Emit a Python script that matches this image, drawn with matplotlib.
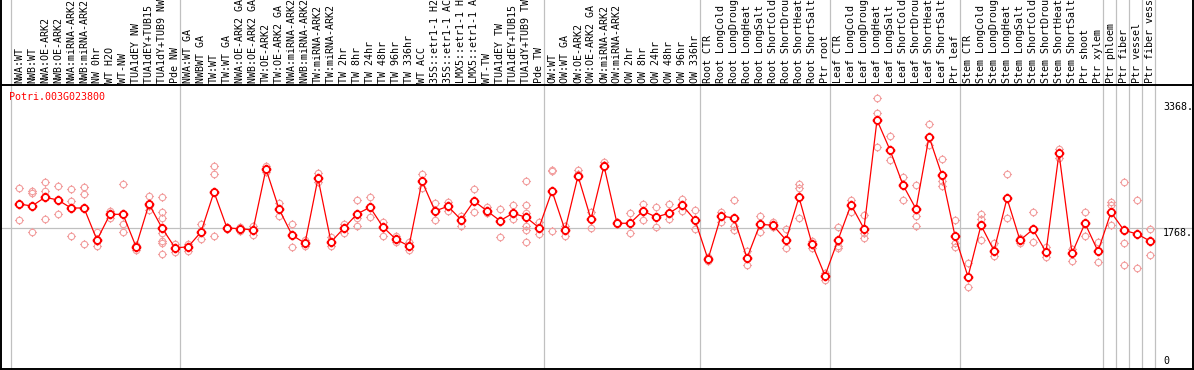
import matplotlib
matplotlib.use('Agg')
import matplotlib.pyplot as plt
from matplotlib.path import Path
import numpy as np


# sample names (top labels, one per column)
labels = [
	'NWA:WT', 'NWB:WT', 'NWA:OE-ARK2', 'NWB:OE-ARK2', 'NWA:miRNA-ARK2', 'NWB:miRNA-ARK2',
	'NW 0hr', 'WT H2O', 'WT-NW', 'TUA1dEY NW', 'TUA1dEY+TUB15 NW', 'TUA1dY+TUB9 NW', 'Pde NW',
	'NWA:WT GA', 'NWBWT GA', 'TW:WT', 'TW:WT GA', 'NWA:OE-ARK2 GA', 'NWB:OE-ARK2 GA',
	'TW:OE-ARK2', 'TW:OE-ARK2 GA', 'NWA:miRNA-ARK2 GA', 'NWB:miRNA-ARK2 GA', 'TW:miRNA-ARK2',
	'TW:miRNA-ARK2 GA', 'TW 2hr', 'TW 8hr', 'TW 24hr', 'TW 48hr', 'TW 96hr', 'TW 336hr',
	'WT ACC', '35S::etr1-1 H2O', '35S::etr1-1 ACC', 'LMX5::etr1-1 H2O', 'LMX5::etr1-1 ACC',
	'WT-TW', 'TUA1dEY TW', 'TUA1dEY+TUB15 TW', 'TUA1dY+TUB9 TW', 'Pde TW',
	'OW:WT', 'OW:WT GA', 'OW:OE-ARK2', 'OW:OE-ARK2 GA', 'OW:miRNA-ARK2', 'OW:miRNA-ARK2 GA',
	'OW 2hr', 'OW 8hr', 'OW 24hr', 'OW 48hr', 'OW 96hr', 'OW 336hr',
	'Root CTR', 'Root LongCold', 'Root LongDrought', 'Root LongHeat', 'Root LongSalt',
	'Root ShortCold', 'Root ShortDrought', 'Root ShortHeat', 'Root ShortSalt', 'Ptr root',
	'Leaf CTR', 'Leaf LongCold', 'Leaf LongDrought', 'Leaf LongHeat', 'Leaf LongSalt',
	'Leaf ShortCold', 'Leaf ShortDrought', 'Leaf ShortHeat', 'Leaf ShortSalt', 'Ptr leaf',
	'Stem CTR', 'Stem LongCold', 'Stem LongDrought', 'Stem LongHeat', 'Stem LongSalt',
	'Stem ShortCold', 'Stem ShortDrought', 'Stem ShortHeat', 'Stem ShortSalt',
	'Ptr shoot', 'Ptr xylem', 'Ptr phloem', 'Ptr fiber', 'Ptr vessel', 'Ptr fiber vessel',
]

# mean expression per sample
means = [
	2065, 2040, 2149, 2115, 2015, 2015, 1615, 1936, 1936, 1531, 2065, 1765, 1518,
	1527, 1715, 2215, 1765, 1756, 1740, 2503, 2003, 1677, 1573, 2387, 1590, 1765,
	1940, 2024, 1777, 1623, 1539, 2349, 1978, 2036, 1869, 2103, 1978, 1856, 1949,
	1899, 1769, 2228, 1740, 2416, 1874, 2541, 1824, 1824, 1978, 1902, 1949, 2053,
	1865, 1373, 1915, 1890, 1389, 1811, 1799, 1615, 2149, 1565, 1168, 1615, 2056,
	1756, 3116, 2741, 2303, 2003, 2907, 2424, 1665, 1155, 1799, 1481, 2136, 1611,
	1748, 1464, 2700, 1448, 1824, 1473, 1961, 1736, 1690, 1602,
]

# individual replicates per sample
reps = [
	[2262, 1865], [2224, 2203, 1715], [2340, 2232, 1877], [2290, 1936],
	[2253, 2103, 1665], [2278, 2190, 1561], [1711, 1539, 1600], [1981, 1894],
	[2315, 1811, 1715], [1489, 1552], [2165, 1990, 2040], [2149, 1965, 1886, 1706, 1606, 1573, 1436],
	[1565, 1464], [1565, 1477], [1815, 1623], [2541, 2437, 1665], [1773, 1756],
	[1773, 1731], [1790, 1673], [2541, 2469], [2081, 1919], [1815, 1527],
	[1615, 1540], [2449, 2344], [1648, 1539], [1815, 1706], [2115, 1894, 1794],
	[2149, 1906], [1840, 1661], [1665, 1593], [1590, 1489], [2444, 2262],
	[2078, 1861], [2094, 1981], [1915, 1790], [2249, 1961], [2024, 1949],
	[1999, 1652], [2053, 1874], [2353, 2053, 1949, 1790, 1740, 1590], [1844, 1686],
	[2491, 2478, 1723], [1790, 1668], [2491, 2441], [1965, 1765], [2591, 2550],
	[1840, 1810], [1949, 1698], [2069, 1865], [2024, 1781], [2069, 1874],
	[2128, 1978], [1990, 1748], [1348, 1406], [1965, 1844], [2111, 1794, 1740],
	[1477, 1302], [1911, 1711], [1836, 1773], [1752, 1511], [2315, 2262, 1886],
	[1598, 1511], [1114, 1198], [1773, 1539, 1514], [2115, 1965], [1927, 1698, 1636],
	[3388, 3200, 2775], [2916, 2616], [2407, 2115], [2299, 1919, 1790],
	[3063, 2804], [2625, 2353, 2290], [1865, 1573, 1531], [1323, 1023],
	[1936, 1874, 1615], [1573, 1414], [2437, 1886], [1573, 1640], [1961, 1586],
	[1531, 1406], [2750, 2637], [1498, 1352], [1961, 1665], [1593, 1335],
	[2094, 2053, 1799], [2337, 1581, 1298], [2111, 1260], [1752, 1427],
]

# first column of each sample group (gray separators)
group_starts = [0, 13, 41, 53, 63, 73, 84, 85, 86, 87, 88]
gene = 'Potri.003G023800'
ref_value = 1768
max_value = 3368

mono = 'DejaVu Sans Mono'
fsize = 7.2


# open circle with four short ticks, like the original markers
def tick_circle():
	c = Path.unit_circle()
	verts = list(c.vertices)
	codes = list(c.codes)
	for dx, dy in [(1, 0), (-1, 0), (0, 1), (0, -1)]:
		verts += [(dx * 1.0, dy * 1.0), (dx * 1.4, dy * 1.4)]
		codes += [Path.MOVETO, Path.LINETO]
	return Path(verts, codes)


mk = tick_circle()

fig = plt.figure(figsize=(11.94, 3.70), dpi=100)
ax = fig.add_axes([1 / 1194, 1 / 370, 1192 / 1194, 284 / 370])
x0 = -18 / 13
ax.set_xlim(x0, x0 + 1192 / 13)
ax.set_ylim(0, 284 / 0.0799)
ax.set_xticks([])
ax.set_yticks([])
for s in ax.spines.values():
	s.set_color('black')
	s.set_linewidth(1.4)

# left / right border also runs through the label area
for xb in (0, 1):
	ax.plot([xb, xb], [1, 1.31], transform=ax.transAxes, color='black', lw=1.4, clip_on=False)

for g in group_starts:
	ax.axvline(g - 0.62, ymin=0, ymax=1.31, color='#c0c0c0', lw=0.9, clip_on=False, zorder=0)
ax.axhline(ref_value, color='#c0c0c0', lw=0.9, zorder=0)

xs = np.arange(len(means))
for i, r in enumerate(reps):
	ax.plot([i] * len(r), r, ls='none', marker=mk, ms=6.5, mec='#f2a0a0', mfc='none', mew=0.8, zorder=1)
ax.plot(xs, means, color='red', lw=0.9, marker=mk, ms=7, mec='red', mfc='white', mew=1.3, zorder=3)

for i, lab in enumerate(labels):
	ax.annotate(lab, xy=(i, 1), xycoords=('data', 'axes fraction'), xytext=(0, 2),
		textcoords='offset pixels', rotation=90, ha='center', va='bottom',
		family=mono, fontsize=fsize, annotation_clip=False)

ax.annotate(gene, xy=(0, 1), xycoords='axes fraction', xytext=(8, -12), textcoords='offset pixels',
	ha='left', va='center', color='red', family=mono, fontsize=fsize)

for val, txt, dy in [(max_value, '3368.', -7), (ref_value, '1768.', -5), (0, '0', 8)]:
	ax.annotate(txt, xy=(88, val), xytext=(0, dy), textcoords='offset pixels',
		ha='left', va='center', family=mono, fontsize=fsize, annotation_clip=False)

plt.savefig('out.png', dpi=100)
plt.close()
